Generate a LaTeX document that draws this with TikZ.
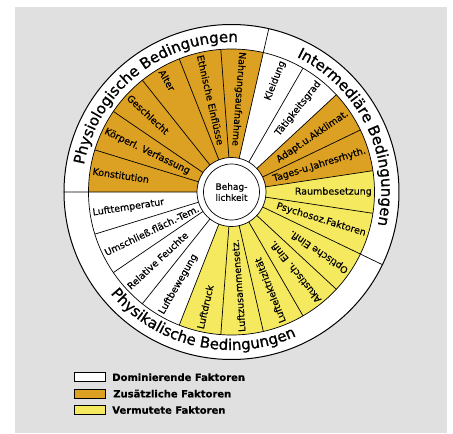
\documentclass[tikz,border=0pt]{standalone}
\usepackage{fontspec}
\setmainfont{DejaVu Sans}[FakeBold=0.35]
\newfontfamily\ringfont{DejaVu Sans}[FakeBold=1]
\usepackage{xcolor}
\usepackage{tikz}
\usetikzlibrary{positioning, decorations.text}
\definecolor{FactorOrange}{RGB}{220,160,35}
\definecolor{FactorYellow}{RGB}{245,233,95}
\definecolor{PanelGray}{RGB}{224,224,224}
\tikzset{
  spoke/.style={line width=0.7pt},
  factor/.style={font=\fontsize{9.5}{11}\selectfont, inner sep=0.5pt},
  outin/.style={factor, anchor=west},
  inout/.style={factor, anchor=east},
  ringtext/.style={decorate, decoration={text along path, text align=center,
      text={|\ringfont\fontsize{15}{15}\selectfont|#1}}},
  legbox/.style={draw, line width=0.9pt, minimum width=31.5pt, minimum height=9pt, inner sep=0pt},
  legtext/.style={font=\bfseries\fontsize{10}{12}\selectfont, inner sep=0pt}
}

\begin{document}
\begin{tikzpicture}
  \useasboundingbox (-231.5pt,-242pt) rectangle (221.5pt,192pt);
  \fill[PanelGray] (-216.5pt,-241pt) rectangle (215.5pt,185pt);

  % outer ring and coloured sectors
  \filldraw[fill=white, line width=1pt] (0,0) circle (167.5pt);
  \fill[FactorOrange] (0,0) -- (180:143pt) arc[start angle=180, end angle=77.14, radius=143pt] -- cycle;
  \fill[FactorOrange] (0,0) -- (42.86:143pt) arc[start angle=42.86, end angle=8.57, radius=143pt] -- cycle;
  \fill[FactorYellow] (0,0) -- (8.57:143pt) arc[start angle=8.57, end angle=-111.43, radius=143pt] -- cycle;
  \draw[spoke] (0,0) circle (143pt);
  \draw[spoke] (180:34.5pt) -- (180:167.5pt) (77.14:34.5pt) -- (77.14:167.5pt)
    (-25.71:34.5pt) -- (-25.71:167.5pt)
    (162.86:34.5pt) -- (162.86:143pt) (145.71:34.5pt) -- (145.71:143pt)
    (128.57:34.5pt) -- (128.57:143pt) (111.43:34.5pt) -- (111.43:143pt)
    (94.29:34.5pt) -- (94.29:143pt) (60:34.5pt) -- (60:143pt)
    (42.86:34.5pt) -- (42.86:143pt) (25.71:34.5pt) -- (25.71:143pt)
    (8.57:34.5pt) -- (8.57:143pt) (-8.57:34.5pt) -- (-8.57:143pt)
    (-42.86:34.5pt) -- (-42.86:143pt) (-60:34.5pt) -- (-60:143pt)
    (-77.14:34.5pt) -- (-77.14:143pt) (-94.29:34.5pt) -- (-94.29:143pt)
    (-111.43:34.5pt) -- (-111.43:143pt) (-128.57:34.5pt) -- (-128.57:143pt)
    (-145.71:34.5pt) -- (-145.71:143pt) (-162.86:34.5pt) -- (-162.86:143pt);

  % ring titles
  \path[ringtext={Physiologische Bedingungen}] (180:150pt) arc[start angle=180, end angle=77.14, radius=150pt];
  \path[ringtext={Intermediäre Bedingungen}] (77.14:150pt) arc[start angle=77.14, end angle=-25.71, radius=150pt];
  \path[ringtext={Physikalische Bedingungen}] (180:158pt) arc[start angle=180, end angle=334.29, radius=158pt];

  % centre
  \filldraw[fill=white, spoke] (0,0) circle (34.5pt);
  \node[draw, circle, spoke, minimum size=56pt, inner sep=0pt, align=center,
    font=\fontsize{9}{11}\selectfont] (beh) at (0,0) {Behag-\\lichkeit};

  % factor labels
  \node[outin, rotate=-8.57] (kon) at (171.43:141pt) {Konstitution};
  \node[outin, rotate=-25.71] (kv) at (154.29:141pt) {Körperl. Verfassung};
  \node[outin, rotate=-42.86] (ges) at (137.14:141pt) {Geschlecht};
  \node[outin, rotate=-60] (alt) at (120:141pt) {Alter};
  \node[outin, rotate=-77.14] (eth) at (102.86:141pt) {Ethnische Einflüsse};
  \node[outin, rotate=-94.29] (nah) at (85.71:141pt) {Nahrungsaufnahme};
  \node[inout, rotate=68.57] (kle) at (68.57:141pt) {Kleidung};
  \node[inout, rotate=51.43] (tae) at (51.43:141pt) {Tätigkeitsgrad};
  \node[inout, rotate=34.29] (ada) at (34.29:141pt) {Adapt.u.Akklimat.};
  \node[inout, rotate=17.14] (tag) at (17.14:141pt) {Tages-u.Jahresrhyth.};
  \node[inout, rotate=0] (rau) at (0:141pt) {Raumbesetzung};
  \node[inout, rotate=-17.14] (psy) at (-17.14:141pt) {Psychosoz.Faktoren};
  \node[outin, rotate=145.71] (opt) at (-34.29:141pt) {Optische Einfl.};
  \node[outin, rotate=128.57] (aku) at (-51.43:141pt) {Akustisch. Einfl.};
  \node[outin, rotate=111.43] (lel) at (-68.57:141pt) {Luftelektrizität};
  \node[outin, rotate=94.29] (lzu) at (-85.71:141pt) {Luftzusammensetz.};
  \node[outin, rotate=77.14] (ldr) at (-102.86:141pt) {Luftdruck};
  \node[outin, rotate=60] (lbw) at (-120:141pt) {Luftbewegung};
  \node[outin, rotate=42.86] (rfe) at (-137.14:141pt) {Relative Feuchte};
  \node[outin, rotate=25.71] (usf) at (-154.29:141pt) {Umschließ.fläch.-Tem.};
  \node[outin, rotate=8.57] (ltp) at (-171.43:141pt) {Lufttemperatur};

  % legend
  \node[legbox, fill=white] (ldom) at (-141.6pt,-185.2pt) {};
  \node[legtext, right=6pt of ldom] (tdom) {Dominierende Faktoren};
  \node[legbox, fill=FactorOrange, below=6.5pt of ldom] (lzus) {};
  \node[legtext, right=7pt of lzus] (tzus) {Zusätzliche Faktoren};
  \node[legbox, fill=FactorYellow, below=6.5pt of lzus] (lver) {};
  \node[legtext, right=6pt of lver] (tver) {Vermutete Faktoren};
\end{tikzpicture}
\end{document}
